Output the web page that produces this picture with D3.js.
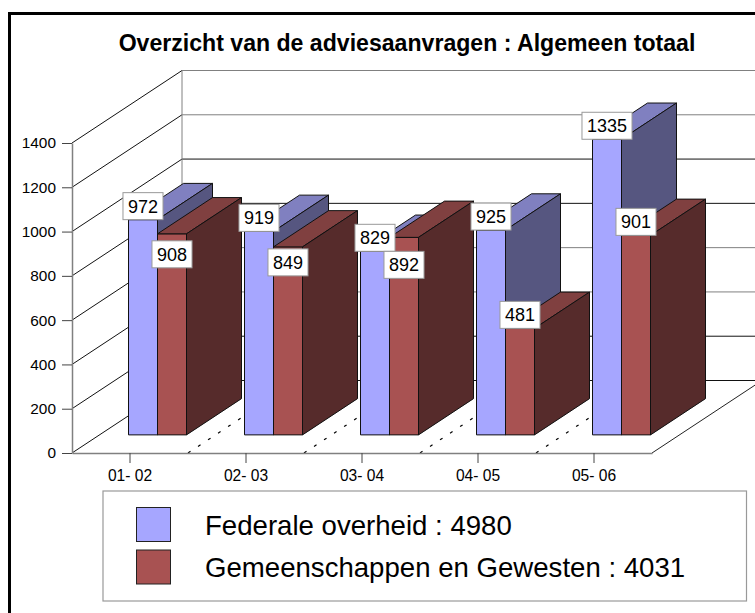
<!DOCTYPE html>
<html>
  <head>
    <meta charset="utf-8">
    <title>Overzicht van de adviesaanvragen</title>
    <script src="https://d3js.org/d3.v7.min.js"></script>
    <style>
      body { margin: 0; background: #fff; }
      svg { display: block; font-family: "Liberation Sans", Arial, sans-serif; }
    </style>
  </head>
  <body>
    <svg width="755" height="613"></svg>
    <script>
      var title = "Overzicht van de adviesaanvragen : Algemeen totaal";
      var years = ["01- 02", "02- 03", "03- 04", "04- 05", "05- 06"];
      var federal = [972, 919, 829, 925, 1335];
      var regional = [908, 849, 892, 481, 901];
      var seriesNames = ["Federale overheid : 4980", "Gemeenschappen en Gewesten : 4031"];
      var yTicks = [0, 200, 400, 600, 800, 1000, 1200, 1400];

      var svg = d3.select("svg");

      var x = d3.scaleBand().domain(years).range([72, 652]).paddingInner(0.5).paddingOuter(0.25);
      var y = d3.scaleLinear().domain([0, 1400]).range([453, 143]);
      // the depth of the box goes up and to the right
      var depthX = d3.scaleLinear().domain([0, 1]).range([0, 110]);
      var depthY = d3.scaleLinear().domain([0, 1]).range([0, -72.5]);
      var seriesX = d3.scaleBand().domain([0, 1]).range([0, x.bandwidth()]);
      var barFront = 0.25, barBack = 0.75;

      var palette = [
        { front: "#a6a6ff", top: "#8080c0", side: "#565680" },
        { front: "#a85252", top: "#804040", side: "#562b2b" }
      ];

      // the picture's frame: only top and left are inside the window
      svg.append("rect").attr("x", 8).attr("y", 12).attr("width", 747).attr("height", 3);
      svg.append("rect").attr("x", 8).attr("y", 12).attr("width", 3).attr("height", 601);

      svg.append("text").attr("x", 407).attr("y", 51).attr("text-anchor", "middle")
        .style("font-size", "23.1px").style("font-weight", "bold").text(title);

      function pt(px, value, depth) {
        return [px + depthX(depth), y(value) + depthY(depth)];
      }
      function poly(points) {
        return "M" + points.map(function(p) { return p.join(","); }).join("L") + "Z";
      }

      // walls and floor
      var walls = svg.append("g").attr("fill", "none");
      yTicks.forEach(function(t, i) {
        walls.append("path").attr("d", d3.line()([pt(72, t, 0), pt(72, t, 1)])).attr("stroke", "#111");
        walls.append("path").attr("d", d3.line()([pt(72, t, 1), pt(790, t, 1)]))
          .attr("stroke", i % 4 < 2 ? "#111" : "#808080");
      });
      walls.append("path").attr("d", d3.line()([pt(72, 0, 1), pt(72, 1400, 1)])).attr("stroke", "#808080");
      walls.append("path").attr("d", d3.line()([pt(652, 0, 0), pt(652, 0, 1)])).attr("stroke", "#222");

      // dotted floor lines between the categories
      years.slice(1).forEach(function(d) {
        var bx = x(d) - x.step() * 0.25;
        walls.append("path").attr("d", d3.line()([pt(bx, 0, 0), pt(bx, 0, 1)]))
          .attr("stroke", "#000").attr("stroke-width", 1.2).attr("stroke-dasharray", "3 9");
      });

      // axes
      var yAxis = svg.append("g").attr("transform", "translate(72,0)")
        .call(d3.axisLeft(y).tickValues(yTicks).tickFormat(d3.format("d")).tickSize(10).tickPadding(6).tickSizeOuter(0));
      var xAxis = svg.append("g").attr("transform", "translate(0,453)")
        .call(d3.axisBottom(x).tickSize(10).tickPadding(7).tickSizeOuter(0));
      yAxis.selectAll("text").style("font-size", "15.4px").attr("fill", "#000");
      xAxis.selectAll("text").style("font-size", "15.6px").attr("fill", "#000");
      yAxis.select(".domain").attr("stroke", "#808080").attr("stroke-width", 1.5);
      xAxis.select(".domain").attr("stroke", "#808080").attr("stroke-width", 1.5);
      yAxis.selectAll("line").attr("stroke", "#444");
      xAxis.selectAll("line").attr("stroke", "#444");

      // bars, one category after the other, left to right
      var bars = svg.append("g").attr("stroke", "#111").attr("stroke-linejoin", "round");
      var labels = [];
      years.forEach(function(d, c) {
        [federal[c], regional[c]].forEach(function(v, s) {
          var x0 = x(d) + seriesX(s), x1 = x0 + seriesX.bandwidth();
          bars.append("path").attr("fill", palette[s].front)
            .attr("d", poly([pt(x0, 0, barFront), pt(x1, 0, barFront), pt(x1, v, barFront), pt(x0, v, barFront)]));
          bars.append("path").attr("fill", palette[s].top)
            .attr("d", poly([pt(x0, v, barFront), pt(x1, v, barFront), pt(x1, v, barBack), pt(x0, v, barBack)]));
          bars.append("path").attr("fill", palette[s].side)
            .attr("d", poly([pt(x1, 0, barFront), pt(x1, 0, barBack), pt(x1, v, barBack), pt(x1, v, barFront)]));
          var p = pt((x0 + x1) / 2, v, barFront);
          labels.push({ value: v, cx: p[0], bottom: p[1], series: s, cat: c });
        });
      });

      // three red labels were pushed down to clear the blue ones
      var labelDrop = { "1-0": 34, "1-1": 29, "1-2": 41 };
      var labelG = svg.append("g");
      labels.forEach(function(l) {
        var drop = labelDrop[l.series + "-" + l.cat] || 0;
        var g = labelG.append("g");
        var box = g.append("rect").attr("fill", "#fff").attr("stroke", "#999");
        var txt = g.append("text").attr("x", l.cx).attr("y", l.bottom + drop - 7)
          .attr("text-anchor", "middle").style("font-size", "18px").text(l.value);
        var w = txt.node().getComputedTextLength() + 10;
        box.attr("x", l.cx - w / 2).attr("y", l.bottom + drop - 27).attr("width", w).attr("height", 27);
      });

      // legend
      svg.append("rect").attr("x", 103).attr("y", 491).attr("width", 643.5).attr("height", 110)
        .attr("fill", "#fff").attr("stroke", "#999").attr("stroke-width", 1.2);
      var legendY = d3.scalePoint().domain([0, 1]).range([507.5, 550]);
      seriesNames.forEach(function(name, i) {
        svg.append("rect").attr("x", 136.5).attr("y", legendY(i)).attr("width", 34).attr("height", 34)
          .attr("fill", palette[i].front).attr("stroke", "#222");
        svg.append("text").attr("x", 205).attr("y", legendY(i) + 27).style("font-size", "27.6px").text(name);
      });
    </script>
  </body>
</html>
